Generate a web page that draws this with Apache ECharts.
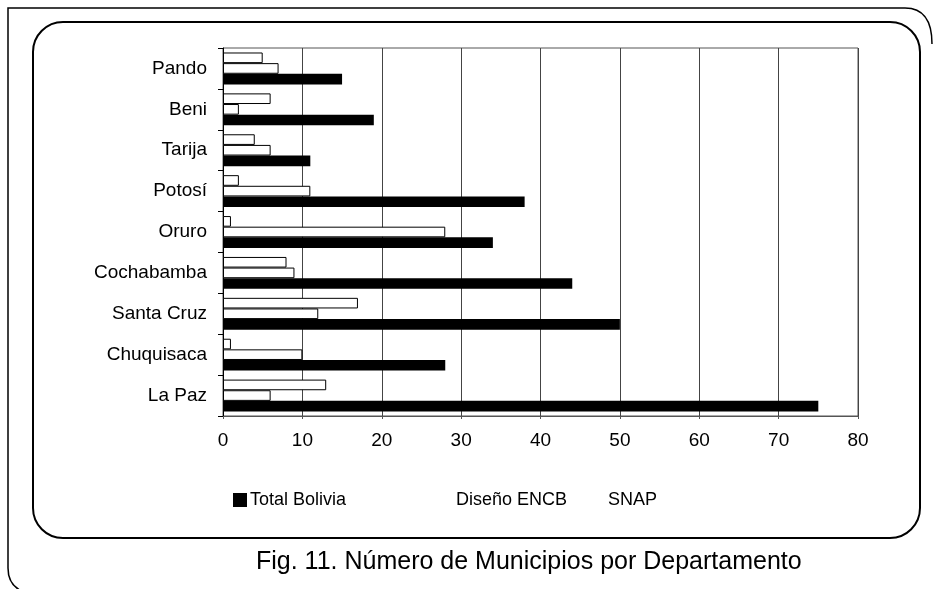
<!DOCTYPE html>
<html>
<head>
<meta charset="utf-8">
<script src="https://cdn.jsdelivr.net/npm/echarts@6/dist/echarts.min.js"></script>
<style>
  html, body { margin: 0; padding: 0; background: #fff; }
  #chart { width: 938px; height: 589px; }
</style>
</head>
<body>
<div id="chart"></div>
<script>
// departamentos, de abajo hacia arriba
var departamentos = ["La Paz", "Chuquisaca", "Santa Cruz", "Cochabamba", "Oruro", "Potosí", "Tarija", "Beni", "Pando"];
var totalBolivia = [75, 28, 50, 44, 34, 38, 11, 19, 15];
var disenoENCB = [6, 10, 12, 9, 28, 11, 6, 2, 7];
var snap = [13, 1, 17, 8, 1, 2, 4, 6, 5];
var xTicks = [0, 10, 20, 30, 40, 50, 60, 70, 80];

var font = "'Liberation Sans', Arial, sans-serif";

var chart = echarts.init(document.getElementById("chart"), null, { renderer: "canvas" });

function legendAt(left, name, iconColor) {
  return {
    left: left,
    top: 486,
    icon: "rect",
    itemWidth: 14,
    itemHeight: 14,
    itemGap: 0,
    selectedMode: false,
    textStyle: { fontFamily: font, fontSize: 18, color: "#000", padding: [0, 0, 0, -2] },
    data: [{ name: name, itemStyle: { color: iconColor, borderWidth: 0 } }]
  };
}

var frameStyle = { fill: "none", stroke: "#000", lineWidth: 1.5 };
var whiteBar = { color: "#fff", borderColor: "#000", borderWidth: 1 };

chart.setOption({
  backgroundColor: "#fff",
  animation: false,
  graphic: [
    // marco exterior
    { type: "polyline", shape: { points: [[905, 8], [8, 8], [8, 568]] }, style: frameStyle },
    { type: "bezierCurve", shape: { x1: 905, y1: 8, cpx1: 932, cpy1: 8, x2: 932, y2: 44 }, style: frameStyle },
    { type: "bezierCurve", shape: { x1: 8, y1: 568, cpx1: 8, cpy1: 586, x2: 24, y2: 592 }, style: frameStyle },
    {
      // marco interior redondeado
      type: "rect",
      shape: { x: 33, y: 22, width: 887, height: 516, r: 30 },
      style: { fill: "none", stroke: "#000", lineWidth: 2 }
    },
    {
      type: "text",
      left: 256,
      top: 550,
      style: {
        text: "Fig. 11. Número de Municipios por Departamento",
        font: "25px " + font,
        fill: "#000"
      }
    }
  ],
  legend: [
    legendAt(228, "Total Bolivia", "#000"),
    legendAt(434, "Diseño ENCB", "#fff"),
    legendAt(586, "SNAP", "#fff")
  ],
  grid: {
    left: 223,
    right: 80,
    top: 48,
    bottom: 173,
    show: true,
    borderColor: "#555",
    borderWidth: 1
  },
  xAxis: {
    type: "value",
    min: 0,
    max: 80,
    interval: 10,
    axisLine: { show: true, lineStyle: { color: "#555" } },
    axisTick: { show: true, length: 3, lineStyle: { color: "#555" } },
    splitLine: { show: true, lineStyle: { color: "#444", width: 1 } },
    axisLabel: {
      fontFamily: font,
      fontSize: 19,
      color: "#000",
      margin: 15,
      formatter: function (v) { return xTicks.indexOf(v) >= 0 ? String(v) : ""; }
    }
  },
  yAxis: {
    type: "category",
    data: departamentos,
    axisLine: { show: true, lineStyle: { color: "#000" } },
    axisTick: { show: true, length: 5, lineStyle: { color: "#000" } },
    axisLabel: { fontFamily: font, fontSize: 19, color: "#000", margin: 16 }
  },
  // en barras horizontales la primera serie queda arriba
  series: [
    {
      name: "SNAP",
      type: "bar",
      data: snap,
      barGap: "0%",
      barCategoryGap: "22%",
      itemStyle: whiteBar
    },
    {
      name: "Diseño ENCB",
      type: "bar",
      data: disenoENCB,
      itemStyle: whiteBar
    },
    {
      name: "Total Bolivia",
      type: "bar",
      data: totalBolivia,
      itemStyle: { color: "#000" }
    }
  ]
});
</script>
</body>
</html>
